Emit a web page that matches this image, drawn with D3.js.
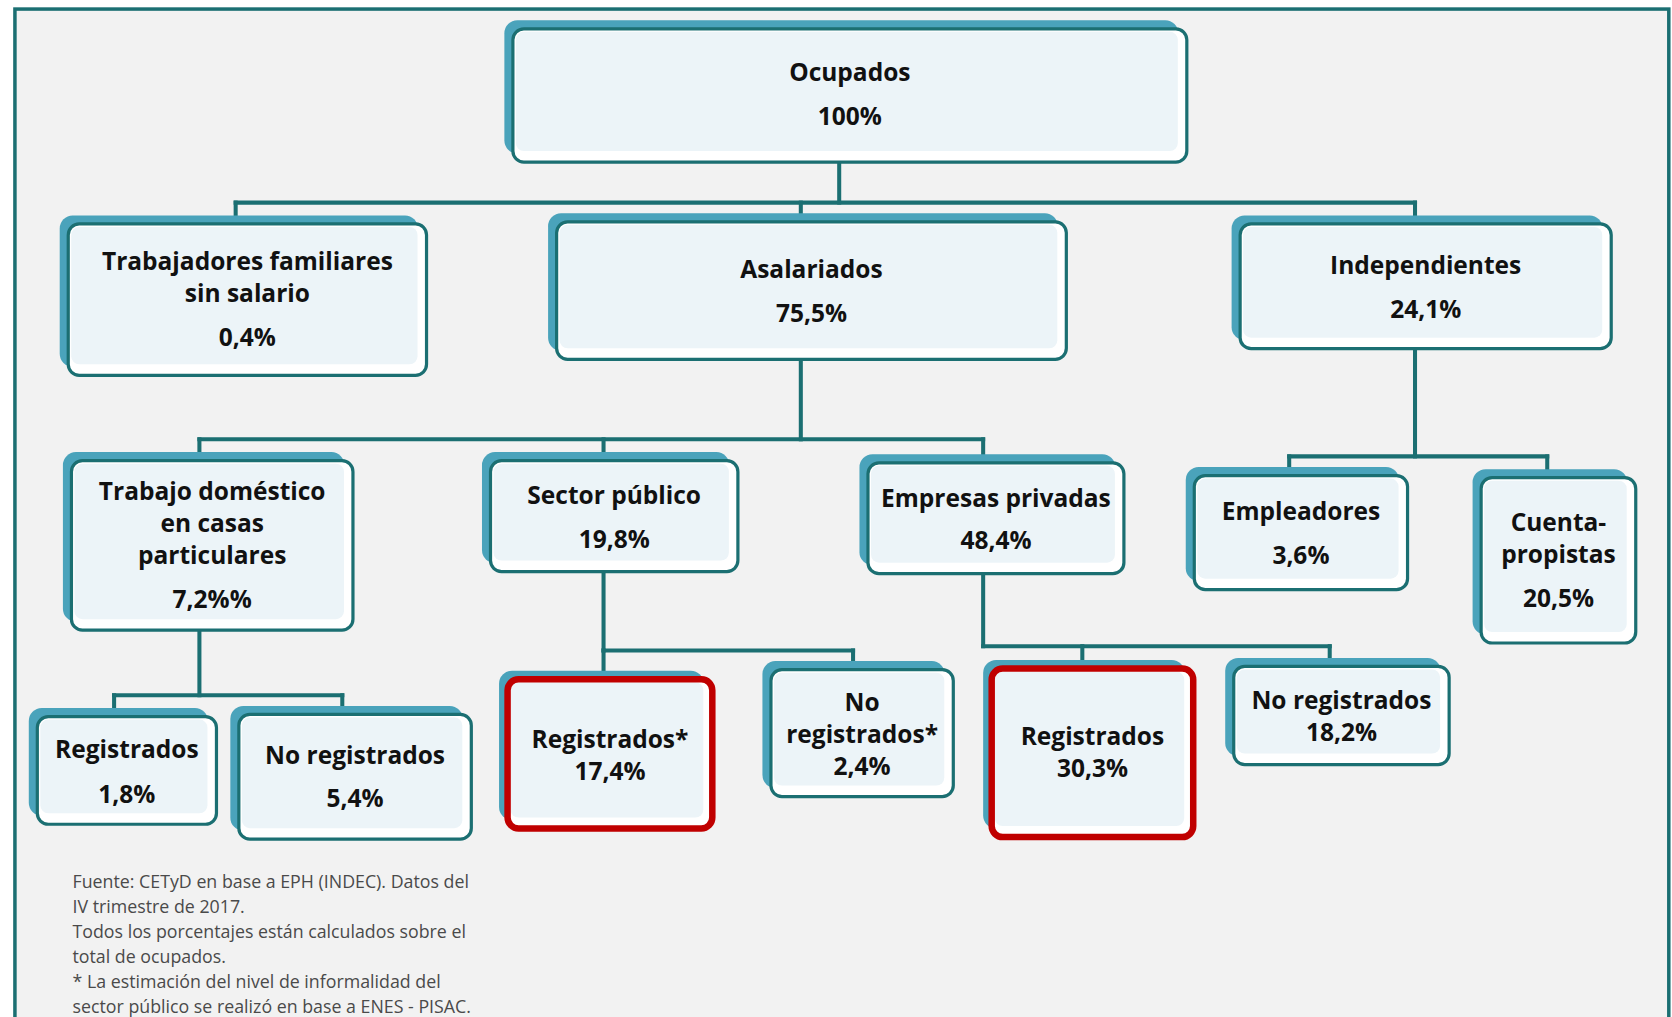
<!DOCTYPE html>
<html lang="es">
<head>
<meta charset="utf-8">
<title>Ocupados - estructura</title>
<script src="https://cdnjs.cloudflare.com/ajax/libs/d3/7.8.5/d3.min.js"></script>
<style>
  html, body {
    margin: 0;
    padding: 0;
    background: #ffffff;
  }
  svg {
    display: block;
  }
  .label {
    font-family: "Open Sans", "Noto Sans", sans-serif;
    font-weight: 700;
    fill: #111111;
  }
  .note {
    font-family: "Open Sans", "Noto Sans", sans-serif;
    fill: #4a4a4a;
  }
</style>
</head>
<body>
<div id="chart"></div>
<script>
// data
const nodeLabels = [
  ["Ocupados"],
  ["Trabajadores familiares", "sin salario"],
  ["Asalariados"],
  ["Independientes"],
  ["Trabajo doméstico", "en casas", "particulares"],
  ["Sector público"],
  ["Empresas privadas"],
  ["Empleadores"],
  ["Cuenta-", "propistas"],
  ["Registrados"],
  ["No registrados"],
  ["Registrados*"],
  ["No", "registrados*"],
  ["Registrados"],
  ["No registrados"]
];
const nodeValues = ["100%", "0,4%", "75,5%", "24,1%", "7,2%%", "19,8%", "48,4%",
                    "3,6%", "20,5%", "1,8%", "5,4%", "17,4%", "2,4%", "30,3%", "18,2%"];
const nodeParents = [-1, 0, 0, 0, 2, 2, 2, 3, 3, 4, 4, 5, 5, 6, 6];
const highlighted = [11, 13];

const footnotes = [
  "Fuente: CETyD en base a EPH (INDEC). Datos del",
  "IV trimestre de 2017.",
  "Todos los porcentajes están calculados sobre el",
  "total de ocupados.",
  "* La estimación del nivel de informalidad del",
  "sector público se realizó en base a ENES - PISAC."
];

// layout, in reference pixels (x0, y0, x1, y1)
const boxLayout = [
  [481, 27, 1113, 152],
  [64, 210, 400, 352],
  [522, 208, 1000, 337],
  [1163, 210, 1511, 327],
  [67, 432, 331, 591],
  [460, 432, 692, 536],
  [814, 434, 1054, 538],
  [1120, 446, 1320, 553],
  [1389, 448, 1534, 603],
  [35, 672, 203, 773],
  [224, 670, 442, 787],
  [476, 637, 668, 777],
  [723, 628, 894, 747],
  [930, 627, 1119, 785],
  [1157, 625, 1359, 717]
];
const textTop = [68, 245, 253, 249, 461, 465, 467, 480, 490, 703, 708, 693, 659, 691, 657];
const valueGap = [41, 41, 41, 41, 41, 41, 40, 41, 41, 42, 41, 30, 30, 30, 30];
const dropX = [null, 221, 751, 1327, 187, 566, 922, 1209, 1451, 107, 321, 566, 800, 1015, 1247];
const trunkX = {0: 787, 2: 751, 3: 1327, 4: 187, 5: 566, 6: 922};
const busY = {0: 190, 2: 412, 3: 428, 4: 652, 5: 610, 6: 606};

const width = 1672, height = 1017;
const teal = "#1b6f72", shadow = "#4aa3bb", fillLight = "#ecf4f8", red = "#c00000";

// reference picture px -> page px
const s = d3.scaleLinear().domain([0, 1568]).range([0, width]);

const svg = d3.select("#chart").append("svg")
  .attr("width", width)
  .attr("height", height);

// outer frame
svg.append("rect")
  .attr("x", s(14)).attr("y", s(8.5))
  .attr("width", s(1565) - s(14))
  .attr("height", height + 40)
  .attr("fill", "#f2f2f2")
  .attr("stroke", teal)
  .attr("stroke-width", 3.5);

// connectors
const lines = svg.append("g")
  .attr("stroke", teal)
  .attr("stroke-width", s(3.8))
  .attr("fill", "none")
  .attr("stroke-linecap", "square");

Object.keys(trunkX).forEach(function(p) {
  p = +p;
  const kids = nodeParents.map((d, i) => d === p ? i : -1).filter(i => i >= 0);
  const b = boxLayout[p];
  const xs = kids.map(k => dropX[k]).concat([trunkX[p]]);
  lines.append("line")
    .attr("x1", s(trunkX[p])).attr("x2", s(trunkX[p]))
    .attr("y1", s(b[3])).attr("y2", s(busY[p]));
  lines.append("line")
    .attr("x1", s(d3.min(xs))).attr("x2", s(d3.max(xs)))
    .attr("y1", s(busY[p])).attr("y2", s(busY[p]));
  kids.forEach(function(k) {
    lines.append("line")
      .attr("x1", s(dropX[k])).attr("x2", s(dropX[k]))
      .attr("y1", s(busY[p])).attr("y2", s(boxLayout[k][1] - 7));
  });
});

// boxes
const nodes = svg.selectAll(".node")
  .data(boxLayout.map((b, i) => ({i: i, b: b})))
  .enter().append("g")
  .attr("class", "node");

nodes.append("rect")
  .attr("x", d => s(d.b[0] - 8))
  .attr("y", d => s(d.b[1] - 8))
  .attr("width", d => s(d.b[2]) - s(d.b[0]))
  .attr("height", d => s(d.b[3]) - s(d.b[1]))
  .attr("rx", 13)
  .attr("fill", shadow);

nodes.append("rect")
  .attr("x", d => s(d.b[0]))
  .attr("y", d => s(d.b[1]))
  .attr("width", d => s(d.b[2]) - s(d.b[0]))
  .attr("height", d => s(d.b[3]) - s(d.b[1]))
  .attr("rx", 11)
  .attr("fill", "#ffffff");

nodes.append("rect")
  .attr("x", d => s(d.b[0]) + 3)
  .attr("y", d => s(d.b[1]) + 3)
  .attr("width", d => s(d.b[2]) - s(d.b[0]) - 12)
  .attr("height", d => s(d.b[3]) - s(d.b[1]) - 14)
  .attr("rx", 8)
  .attr("fill", fillLight);

nodes.append("rect")
  .attr("x", d => s(d.b[0]))
  .attr("y", d => s(d.b[1]))
  .attr("width", d => s(d.b[2]) - s(d.b[0]))
  .attr("height", d => s(d.b[3]) - s(d.b[1]))
  .attr("rx", 11)
  .attr("fill", "none")
  .attr("stroke", d => highlighted.includes(d.i) ? red : teal)
  .attr("stroke-width", d => highlighted.includes(d.i) ? 6.5 : 3.2);

// texts
nodes.each(function(d) {
  const g = d3.select(this);
  const cx = s((d.b[0] + d.b[2]) / 2);
  const labels = nodeLabels[d.i];
  labels.forEach(function(t, j) {
    g.append("text")
      .attr("class", "label")
      .attr("x", cx)
      .attr("y", s(textTop[d.i] + 30 * j))
      .attr("dy", "0.35em")
      .attr("text-anchor", "middle")
      .style("font-size", "24.5px")
      .text(t);
  });
  g.append("text")
    .attr("class", "label")
    .attr("x", cx)
    .attr("y", s(textTop[d.i] + 30 * (labels.length - 1) + valueGap[d.i]))
    .attr("dy", "0.35em")
    .attr("text-anchor", "middle")
    .style("font-size", "24.5px")
    .text(nodeValues[d.i]);
});

// footnote
svg.append("g").selectAll("text")
  .data(footnotes)
  .enter().append("text")
  .attr("class", "note")
  .attr("x", s(68))
  .attr("y", (d, i) => s(827 + 23.4 * i))
  .attr("dy", "0.35em")
  .style("font-size", "17.8px")
  .text(d => d);
</script>
</body>
</html>
